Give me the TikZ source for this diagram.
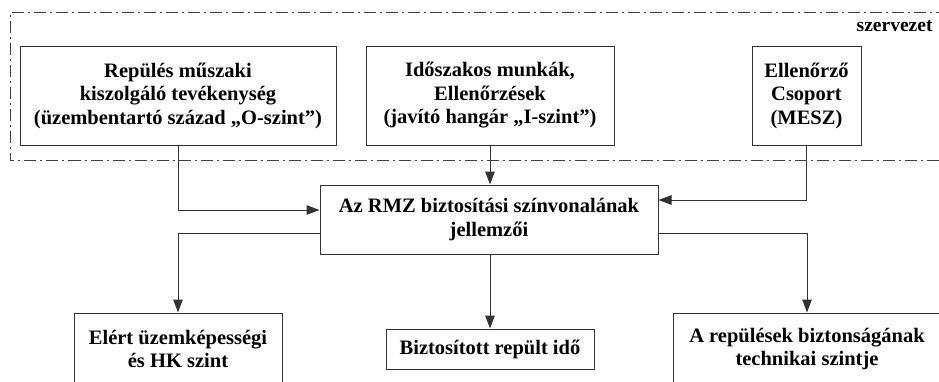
\documentclass[tikz,border=0pt]{standalone}
\usepackage{fontspec}
\setmainfont{Liberation Serif}
\usepackage{tikz}
\usetikzlibrary{arrows.meta}

\tikzset{
  box/.style={draw=black!80, line width=1pt, align=center, inner sep=2pt,
    font=\fontsize{20.5}{23.5}\selectfont\bfseries},
  arr/.style={draw=black!80, line width=1pt, -{Triangle[length=13pt,width=9.5pt]}},
  frame/.style={draw=black!75, line width=0.9pt, dash pattern=on 12pt off 4pt on 2pt off 4pt}
}

\begin{document}
\begin{tikzpicture}[x=1pt,y=-1pt]
\useasboundingbox (0,0) rectangle (939,381);
\clip (0,0) rectangle (939,381);
%\draw[pink, fill] (0,0) rectangle (939,381);
% organisation frame
\draw[frame] (948,12.5) -- (10,12.5) -- (10,160) -- (948,160);
\node[anchor=east, font=\fontsize{19.5}{23.5}\selectfont\bfseries] (szerv) at (936,26) {szervezet};

\node[box, minimum width=316pt, minimum height=99pt] (oszint) at (178,95.5)
  {Repülés műszaki\\kiszolgáló tevékenység\\(üzembentartó század „O-szint”)};
\node[box, minimum width=248pt, minimum height=99pt] (iszint) at (490,95.5)
  {Időszakos munkák,\\Ellenőrzések\\(javító hangár „I-szint”)};
\node[box, minimum width=109pt, minimum height=99pt] (mesz) at (806.5,95.5)
  {Ellenőrző\\Csoport\\(MESZ)};

\node[box, minimum width=338pt, minimum height=69pt] (rmz) at (489,219.5)
  {Az RMZ biztosítási színvonalának\\jellemzői};

\node[box, minimum width=208pt, minimum height=72pt] (hk) at (178,349)
  {Elért üzemképességi\\és HK szint};
\node[box, minimum width=208pt, minimum height=40pt] (ido) at (490,349)
  {Biztosított repült idő};
\node[box, minimum width=268pt, minimum height=72pt] (bizt) at (807,349)
  {A repülések biztonságának\\technikai szintje};

\draw[arr] (oszint.south) |- ([yshift=9.5pt]rmz.west);
\draw[arr] (iszint.south) -- (iszint.south |- rmz.north);
\draw[arr] (mesz.south) |- ([yshift=19.5pt]rmz.east);
\draw[arr] ([yshift=-13.5pt]rmz.west) -| (hk.north);
\draw[arr] (iszint.south |- rmz.south) -- (ido.north);
\draw[arr] ([yshift=-13.5pt]rmz.east) -| (bizt.north);
\end{tikzpicture}
\end{document}
